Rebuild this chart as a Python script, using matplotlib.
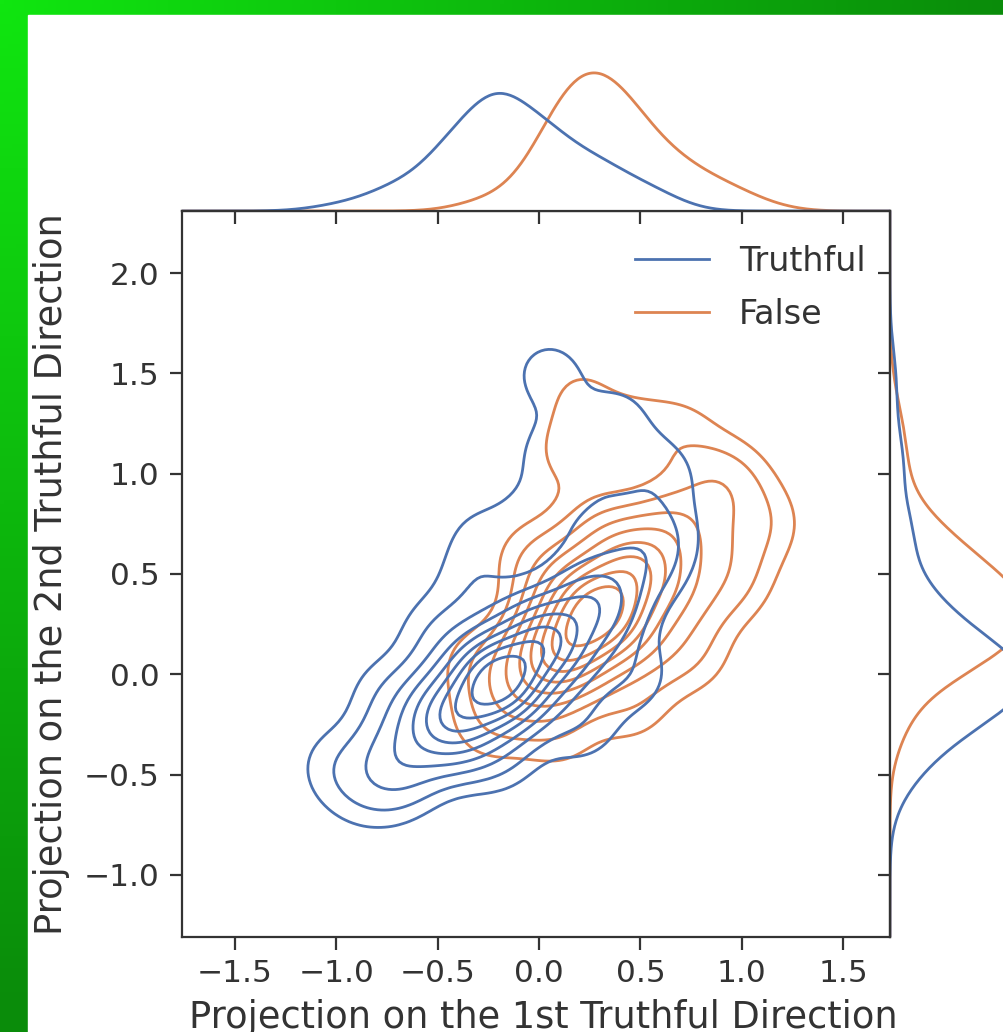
import matplotlib
matplotlib.use("Agg")
import matplotlib.pyplot as plt
import numpy as np
from matplotlib.patches import Rectangle

# hue levels and palette (seaborn "deep")
labels = ["Truthful", "False"]
colors = ["#4C72B0", "#DD8452"]

# kernel centres (x, y, weight)
truthful_x = [-0.90, -0.67, -0.43, -0.20, 0.03, 0.27, 0.50,
              -1.00, -0.75, -0.75, -0.50, -0.30, -0.30,
              0.20, 0.45, -0.20,
              0.00, 0.30, 0.60, 0.60, 0.30, 0.05, 0.05, 0.40]
truthful_y = [-0.60, -0.41, -0.22, -0.03, 0.16, 0.35, 0.54,
              -0.45, -0.56, -0.10, 0.20, 0.45, 0.70,
              -0.25, 0.00, -0.40,
              0.75, 0.75, 0.70, 1.00, 1.05, 1.10, 1.50, 1.30]
truthful_w = [0.6, 3.5, 12.5, 22.0, 13.0, 6.5, 2.0,
              1.1, 1.1, 1.2, 1.4, 1.3, 0.8,
              1.4, 1.4, 1.3,
              1.2, 1.2, 1.3, 1.2, 1.0, 1.0, 1.2, 0.9]

false_x = [-0.05, 0.12, 0.30, 0.48, 0.66, 0.86,
           0.12, 0.50, 0.32, 0.70, 0.90,
           0.20, 0.15, 0.45, 0.70, 0.95, 1.10, 0.95, 0.75, 0.45, 0.10, -0.25, -0.30, -0.05]
false_y = [-0.05, 0.12, 0.31, 0.52, 0.72, 0.94,
           0.45, 0.16, 0.70, 0.38, 0.60,
           1.40, 1.10, 1.20, 1.20, 0.95, 0.75, 0.45, 0.10, -0.15, -0.30, -0.25, 0.05, 0.60]
false_w = [4.5, 16.0, 22.0, 12.0, 5.0, 2.0,
           4.0, 3.0, 3.0, 3.0, 1.5,
           1.0, 1.2, 1.3, 1.2, 1.2, 1.5, 1.5, 1.5, 1.5, 1.2, 1.4, 1.3, 1.0]

bandwidths = [0.15, 0.15]

x_ticks = [-1.5, -1.0, -0.5, 0.0, 0.5, 1.0, 1.5]
y_ticks = [-1.0, -0.5, 0.0, 0.5, 1.0, 1.5, 2.0]
x_label = "Projection on the 1st Truthful Direction"
y_label = "Projection on the 2nd Truthful Direction"

W, H = 1004, 1032
XLIM = (-1.76, 1.73)
YLIM = (-1.31, 2.31)


def px_rect(left, top, right, bottom):
    return [left / W, 1 - bottom / H, (right - left) / W, (bottom - top) / H]


def kde2d(px, py, w, bw, gx, gy):
    px, py, w = np.asarray(px), np.asarray(py), np.asarray(w, dtype=float)
    w = w / w.sum()
    dx = (gx[..., None] - px) / bw
    dy = (gy[..., None] - py) / bw
    return (w * np.exp(-0.5 * (dx**2 + dy**2))).sum(-1) / (2 * np.pi * bw**2)


def kde1d(p, w, bw, g):
    p, w = np.asarray(p), np.asarray(w, dtype=float)
    w = w / w.sum()
    d = (g[:, None] - p) / bw
    return (w * np.exp(-0.5 * d**2)).sum(-1) / (np.sqrt(2 * np.pi) * bw)


plt.rcParams["font.family"] = "DejaVu Sans"
fig = plt.figure(figsize=(W / 100, H / 100), dpi=100)

# green backdrop with the white canvas on top
bg = fig.add_axes([0, 0, 1, 1], zorder=-5)
bg.axis("off")
yy, xx = np.mgrid[0:H:4, 0:W:4]
t = np.clip(np.hypot(xx, yy) / 1000.0, 0, 1)[..., None]
bright = np.array([16, 230, 16]) / 255
dark = np.array([10, 140, 10]) / 255
bg.imshow(bright + (dark - bright) * t, extent=[0, W, H, 0], aspect="auto")
bg.add_patch(Rectangle((28, 15), W - 28, H - 15, color="white"))
bg.set_xlim(0, W)
bg.set_ylim(H, 0)

ax = fig.add_axes(px_rect(182, 211, 890, 937))
ax_mx = fig.add_axes(px_rect(182, 66, 890, 211), sharex=ax)
ax_my = fig.add_axes(px_rect(890, 211, 1032, 937), sharey=ax)

data = [(truthful_x, truthful_y, truthful_w), (false_x, false_y, false_w)]
share = 1.0 / len(data)

gx, gy = np.meshgrid(np.linspace(*XLIM, 200), np.linspace(*YLIM, 200))
dens = [share * kde2d(px, py, w, bw, gx, gy) for (px, py, w), bw in zip(data, bandwidths)]

# iso-proportion levels shared by both groups, like seaborn's common_norm
iso = np.linspace(0.05, 1, 10)
vals = np.concatenate([d.ravel() for d in dens])
sv = np.sort(vals)[::-1]
cum = np.cumsum(sv) / vals.sum()
levels = np.take(sv, np.searchsorted(cum, 1 - iso), mode="clip")
levels = np.unique(levels)

lw = 2.0
for i in [1, 0]:
    ax.contour(gx, gy, dens[i], levels=levels, colors=colors[i], linewidths=lw)

gxx = np.linspace(*XLIM, 400)
gyy = np.linspace(*YLIM, 400)
mx = [share * kde1d(px, w, bw, gxx) for (px, py, w), bw in zip(data, bandwidths)]
my = [share * kde1d(py, w, bw, gyy) for (px, py, w), bw in zip(data, bandwidths)]
for i in [1, 0]:
    ax_mx.plot(gxx, mx[i], color=colors[i], lw=lw)
    ax_my.plot(my[i], gyy, color=colors[i], lw=lw)
ax_mx.set_ylim(0, max(m.max() for m in mx) * 1.05)
ax_my.set_xlim(0, max(m.max() for m in my) * 1.05)

ax.set_xlim(*XLIM)
ax.set_ylim(*YLIM)
ax.set_xticks(x_ticks)
ax.set_yticks(y_ticks)
spine_c = "0.2"
for a in (ax, ax_mx, ax_my):
    for s in a.spines.values():
        s.set_color(spine_c)
        s.set_linewidth(1.6)
    a.tick_params(direction="out", length=9, width=1.6, color=spine_c,
                  labelsize=22.5, labelcolor="0.2", pad=7)

for s in ("top", "right", "left"):
    ax_mx.spines[s].set_visible(False)
for s in ("top", "right", "bottom"):
    ax_my.spines[s].set_visible(False)
ax_mx.tick_params(labelbottom=False, left=False, labelleft=False)
ax_my.tick_params(labelleft=False, bottom=False, labelbottom=False)

ax.set_xlabel(x_label, fontsize=26.5, color="0.2", va="top")
ax.xaxis.set_label_coords(0.51, -0.085)
ax.set_ylabel(y_label, fontsize=26.5, color="0.2", labelpad=10)

handles = [plt.Line2D([], [], color=c, lw=lw) for c in colors]
ax.legend(handles, labels, loc="upper right", bbox_to_anchor=(0.984, 0.972),
          borderaxespad=0, frameon=False, fontsize=24, handlelength=2.2,
          handletextpad=0.9, labelspacing=0.6, labelcolor="0.2")

fig.savefig("out.png", dpi=100)
